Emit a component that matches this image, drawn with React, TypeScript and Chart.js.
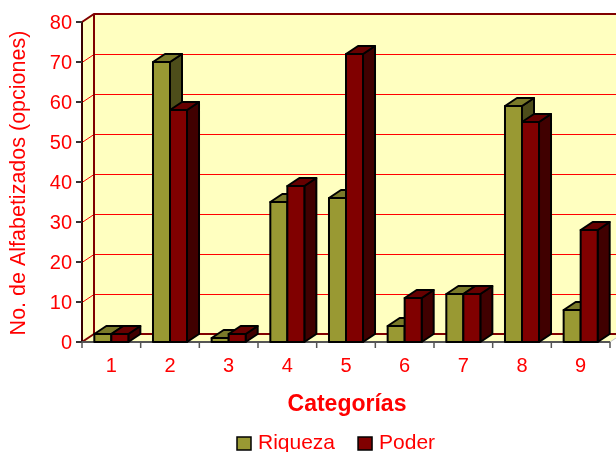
import React, { useEffect, useRef } from 'react';
import { Chart, registerables } from 'chart.js';

Chart.register(...registerables);

const categories = ['1', '2', '3', '4', '5', '6', '7', '8', '9'];
const riqueza = [2, 70, 1, 35, 36, 4, 12, 59, 8];
const poder = [2, 58, 2, 39, 72, 11, 12, 55, 28];
const yTicks = [0, 10, 20, 30, 40, 50, 60, 70, 80];
const seriesNames = ['Riqueza', 'Poder'];
const frontColors = ['#999933', '#800000'];
const topColors = ['#7a7a29', '#660000'];
const sideColors = ['#4d4d1a', '#400000'];

const FONT = '"Liberation Sans", Arial, sans-serif';
const DX = 12;
const DY = -8;
const WALL = '#ffffc0';
const RED = '#ff0000';

const threeD = {
  id: 'threeD',
  beforeDatasetsDraw(chart: any) {
    const { ctx, chartArea: a, scales } = chart;
    const x = scales.x;
    const y = scales.y;
    const L = a.left, R = a.right, T = a.top, B = a.bottom;
    ctx.save();
    ctx.fillStyle = '#ffffff';
    ctx.fillRect(0, 0, chart.width, chart.height);
    // walls
    ctx.fillStyle = WALL;
    ctx.fillRect(L + DX, T + DY, R - L + 20, B - T);
    ctx.beginPath();
    ctx.moveTo(L, T); ctx.lineTo(L + DX, T + DY); ctx.lineTo(L + DX, B + DY); ctx.lineTo(L, B); ctx.closePath();
    ctx.fill();
    ctx.beginPath();
    ctx.moveTo(L, B); ctx.lineTo(L + DX, B + DY); ctx.lineTo(R + DX, B + DY); ctx.lineTo(R, B); ctx.closePath();
    ctx.fill();
    // gridlines
    ctx.strokeStyle = RED;
    ctx.lineWidth = 1;
    for (const v of yTicks) {
      if (v <= 0 || v >= 80) continue;
      const py = Math.round(y.getPixelForValue(v)) + 0.5;
      ctx.beginPath();
      ctx.moveTo(L, py);
      ctx.lineTo(L + DX, py + DY);
      ctx.lineTo(R + DX + 20, py + DY);
      ctx.stroke();
    }
    // dark borders
    ctx.strokeStyle = '#800000';
    ctx.lineWidth = 2;
    ctx.beginPath();
    ctx.moveTo(L, T); ctx.lineTo(L + DX, T + DY); ctx.lineTo(R + DX + 20, T + DY);
    ctx.stroke();
    ctx.beginPath();
    ctx.moveTo(L + DX, T + DY); ctx.lineTo(L + DX, B + DY); ctx.lineTo(R + DX + 20, B + DY);
    ctx.stroke();
    ctx.beginPath();
    ctx.moveTo(L, B); ctx.lineTo(L + DX, B + DY);
    ctx.stroke();
    // right floor diagonal
    ctx.strokeStyle = '#c8c8c8';
    ctx.lineWidth = 1;
    ctx.beginPath();
    ctx.moveTo(R, B); ctx.lineTo(R + DX, B + DY);
    ctx.stroke();
    // front axis
    ctx.strokeStyle = '#3a0000';
    ctx.lineWidth = 2;
    ctx.beginPath();
    ctx.moveTo(L, T); ctx.lineTo(L, B);
    ctx.stroke();
    // floor front line
    ctx.strokeStyle = '#555555';
    ctx.beginPath();
    ctx.moveTo(L - 1, B); ctx.lineTo(R, B);
    ctx.stroke();
    // y ticks and labels
    ctx.lineWidth = 2;
    ctx.strokeStyle = '#333333';
    ctx.fillStyle = RED;
    ctx.font = '20px ' + FONT;
    ctx.textAlign = 'right';
    ctx.textBaseline = 'middle';
    for (const v of yTicks) {
      const py = y.getPixelForValue(v);
      ctx.beginPath();
      ctx.moveTo(L - 6, py); ctx.lineTo(L, py);
      ctx.stroke();
      ctx.fillText(String(v), L - 10, py + 1);
    }
    // x ticks
    ctx.strokeStyle = '#555555';
    ctx.lineWidth = 1.5;
    const n = categories.length;
    const bounds: number[] = [L];
    for (let i = 1; i < n; i++) bounds.push((x.getPixelForValue(i - 1) + x.getPixelForValue(i)) / 2);
    bounds.push(R);
    for (const bx of bounds) {
      ctx.beginPath();
      ctx.moveTo(bx, B); ctx.lineTo(bx, B + 6);
      ctx.stroke();
    }
    ctx.textAlign = 'center';
    ctx.font = '20px ' + FONT;
    categories.forEach((c, i) => {
      ctx.fillText(c, x.getPixelForValue(i), B + 24);
    });
    // axis titles
    ctx.font = 'bold 23px ' + FONT;
    ctx.fillText('Categorías', (L + R) / 2 + 1, B + 63);
    ctx.save();
    ctx.translate(19, 183);
    ctx.rotate(-Math.PI / 2);
    ctx.font = '21.5px ' + FONT;
    ctx.fillText('No. de Alfabetizados (opciones)', 0, 0);
    ctx.restore();
    ctx.restore();
  },
  afterDatasetsDraw(chart: any) {
    const { ctx } = chart;
    const metas = [chart.getDatasetMeta(0), chart.getDatasetMeta(1)];
    ctx.save();
    ctx.lineJoin = 'round';
    ctx.lineWidth = 2;
    ctx.strokeStyle = '#000000';
    for (let i = 0; i < categories.length; i++) {
      for (let d = 0; d < 2; d++) {
        const el: any = metas[d].data[i];
        const x0 = el.x - el.width / 2;
        const x1 = el.x + el.width / 2;
        const top = el.y;
        const base = el.base;
        // side
        ctx.fillStyle = sideColors[d];
        ctx.beginPath();
        ctx.moveTo(x1, top); ctx.lineTo(x1 + DX, top + DY); ctx.lineTo(x1 + DX, base + DY); ctx.lineTo(x1, base); ctx.closePath();
        ctx.fill(); ctx.stroke();
        // top
        ctx.fillStyle = topColors[d];
        ctx.beginPath();
        ctx.moveTo(x0, top); ctx.lineTo(x0 + DX, top + DY); ctx.lineTo(x1 + DX, top + DY); ctx.lineTo(x1, top); ctx.closePath();
        ctx.fill(); ctx.stroke();
        // front
        ctx.fillStyle = frontColors[d];
        ctx.beginPath();
        ctx.rect(x0, top, x1 - x0, base - top);
        ctx.fill(); ctx.stroke();
      }
    }
    ctx.restore();
  },
  afterDraw(chart: any) {
    const { ctx } = chart;
    ctx.save();
    ctx.font = '21px ' + FONT;
    ctx.textBaseline = 'middle';
    ctx.textAlign = 'left';
    let lx = 237;
    const ly = 437;
    seriesNames.forEach((name, d) => {
      ctx.fillStyle = frontColors[d];
      ctx.fillRect(lx, ly, 14, 13);
      ctx.strokeStyle = '#000000';
      ctx.lineWidth = 1.5;
      ctx.strokeRect(lx, ly, 14, 13);
      ctx.fillStyle = RED;
      ctx.fillText(name, lx + 21, ly + 6);
      lx += 21 + ctx.measureText(name).width + 23;
    });
    ctx.restore();
  },
};

export default function App() {
  const ref = useRef<HTMLCanvasElement | null>(null);
  useEffect(() => {
    if (!ref.current) return;
    const chart = new Chart(ref.current, {
      type: 'bar',
      data: {
        labels: categories,
        datasets: [
          { label: seriesNames[0], data: riqueza, backgroundColor: 'rgba(0,0,0,0)', borderWidth: 0 },
          { label: seriesNames[1], data: poder, backgroundColor: 'rgba(0,0,0,0)', borderWidth: 0 },
        ],
      },
      options: {
        responsive: false,
        animation: false,
        events: [],
        layout: { padding: { left: 82, right: 6, top: 22, bottom: 110 } },
        datasets: { bar: { categoryPercentage: 0.58, barPercentage: 1.0 } },
        scales: {
          x: { display: false },
          y: { display: false, min: 0, max: 80, ticks: { stepSize: 10 } },
        },
        plugins: { legend: { display: false }, tooltip: { enabled: false }, title: { display: false } },
      },
      plugins: [threeD],
    });
    return () => chart.destroy();
  }, []);
  return (
    <div style={{ position: 'absolute', left: 0, top: 0, width: 616, height: 452, background: '#fff' }}>
      <canvas ref={ref} width={616} height={452} />
    </div>
  );
}
